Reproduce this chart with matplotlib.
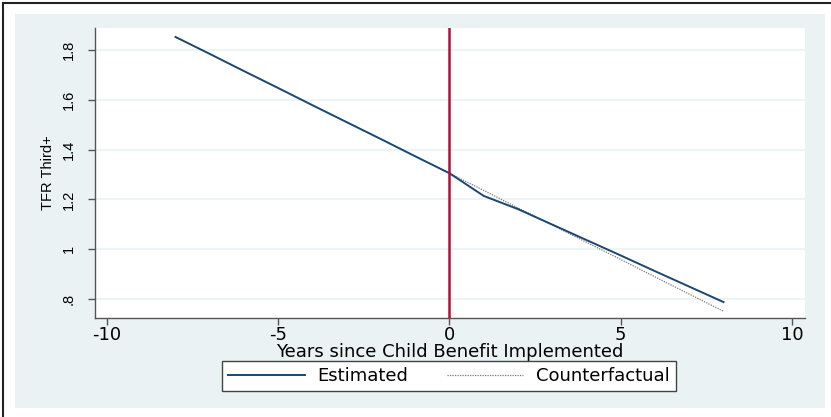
import matplotlib.pyplot as plt
from matplotlib.lines import Line2D
from matplotlib.patches import Rectangle

# === Data ===
years = [-8, -7, -6, -5, -4, -3, -2, -1, 0, 1, 2, 3, 4, 5, 6, 7, 8]
estimated = [1.852, 1.784, 1.715, 1.647, 1.578, 1.510, 1.442, 1.373, 1.305,
             1.214, 1.161, 1.099, 1.037, 0.975, 0.912, 0.850, 0.788]
cf_years = [0, 1, 2, 3, 4, 5, 6, 7, 8]
counterfactual = [1.305, 1.236, 1.166, 1.097, 1.028, 0.959, 0.889, 0.820, 0.751]

xticks = [-10, -5, 0, 5, 10]
yticks = [0.8, 1.0, 1.2, 1.4, 1.6, 1.8]
ytick_labels = [".8", "1", "1.2", "1.4", "1.6", "1.8"]

plt.rcParams['font.family'] = ['DejaVu Sans']

W, H = 831, 417
fig = plt.figure(figsize=(W / 100, H / 100), dpi=100)
fig.patch.set_facecolor("white")

# Stata-like graph region
bg = "#EAF2F3"
fig.patches.append(Rectangle((15 / W, 1 - 408 / H), 810 / W, 394 / H,
                             transform=fig.transFigure, facecolor=bg,
                             edgecolor="none", zorder=-2))
fig.lines.append(Line2D([3 / W, 3 / W], [0, 1 - 3 / H], transform=fig.transFigure,
                        color="#222222", lw=1.5, zorder=-1))
fig.lines.append(Line2D([3 / W, 1], [1 - 3 / H, 1 - 3 / H], transform=fig.transFigure,
                        color="#222222", lw=1.5, zorder=-1))

ax = fig.add_axes([95 / W, 1 - 318 / H, 710 / W, 290 / H])
ax.set_zorder(1)
ax.set_facecolor("white")

# === Plot ===
ax.plot(years, estimated, color="#1a476f", lw=1.4, label="Estimated", zorder=3)
ax.plot(cf_years, counterfactual, color="#777777", lw=0.9, linestyle=(0, (1, 1)),
        label="Counterfactual", zorder=2)
ax.axvline(0, color="#b0103a", lw=1.8, zorder=4)

ax.set_xlim(-10.35, 10.38)
ax.set_ylim(0.724, 1.888)
ax.set_xticks(xticks)
ax.set_xticklabels([str(t) for t in xticks])
ax.set_yticks(yticks)
ax.set_yticklabels(ytick_labels, rotation=90, va="center",
                   family="Liberation Sans", fontsize=10.5)
ax.grid(axis="y", color="#EAF2F3", lw=1.2)
ax.set_axisbelow(True)

for s in ["top", "right"]:
    ax.spines[s].set_visible(False)
for s in ["left", "bottom"]:
    ax.spines[s].set_color("#555555")
    ax.spines[s].set_linewidth(1.0)
ax.tick_params(direction="out", length=5, width=1, color="#555555", pad=2)
ax.tick_params(axis="x", labelsize=13, pad=1)
ax.tick_params(axis="y", pad=9)

ax.set_xlabel("Years since Child Benefit Implemented", fontsize=13, labelpad=-1)
ax.set_ylabel("TFR Third+", fontsize=10.5, family="Liberation Sans", labelpad=5)

ax.legend(loc="center", bbox_to_anchor=(449 / W, 1 - 376 / H),
          bbox_transform=fig.transFigure, ncol=2, fontsize=13,
          frameon=True, fancybox=False, edgecolor="#444444", framealpha=1,
          handlelength=4.25, columnspacing=2.1, borderpad=0.35,
          handletextpad=0.7)

fig.savefig("out.png", dpi=100)
